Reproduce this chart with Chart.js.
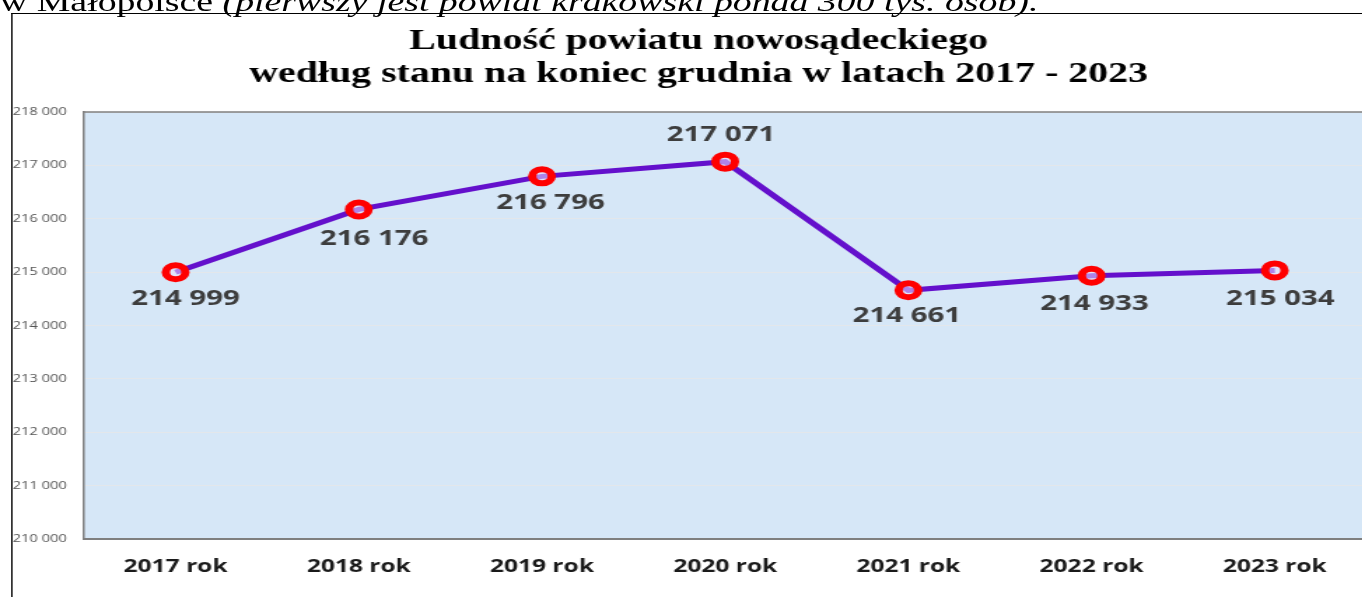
<!DOCTYPE html>
<html lang="pl">
<head>
<meta charset="utf-8">
<title>Ludność powiatu nowosądeckiego</title>
<script src="https://cdn.jsdelivr.net/npm/chart.js@4.4.1/dist/chart.umd.min.js"></script>
<style>
  html, body { margin: 0; padding: 0; background: #fff; overflow: hidden; width: 1362px; height: 597px; }
  /* the source screenshot is stretched sideways, so the whole page is too */
  #page { position: absolute; left: 0; top: 0; width: 1000px; height: 597px;
          transform: scaleX(1.4); transform-origin: 0 0; }
  #intro { position: absolute; left: 0; top: -13px; white-space: nowrap;
           font: 27px/30px "Liberation Serif", "Times New Roman", serif; color: #000; }
  #box { position: absolute; left: 7.6px; top: 13px; width: 990px; height: 600px;
         border-left: 1px solid #000; border-top: 1.5px solid #000; }
  #lineChart { position: absolute; left: 0; top: 0; }
</style>
</head>
<body>
<div id="page">
  <div id="intro">w Małopolsce <i>(pierwszy jest powiat krakowski ponad 300 tys. osób).</i></div>
  <div id="box">
    <canvas id="lineChart" width="980" height="583"></canvas>
  </div>
</div>
<script>
const titleLines = [
  "Ludność powiatu nowosądeckiego",
  "według stanu na koniec grudnia w latach 2017 - 2023",
];
const years = ["2017 rok", "2018 rok", "2019 rok", "2020 rok", "2021 rok", "2022 rok", "2023 rok"];
const population = [214999, 216176, 216796, 217071, 214661, 214933, 215034];
const yMin = 210000;
const yMax = 218000;
const yStep = 1000;

const spaced = (v) => String(v).replace(/\B(?=(\d{3})+(?!\d))/g, " ");

// plot background (runs on past the right edge, as in the source) and top frame line
const plotBack = {
  id: "plotBack",
  beforeDraw(chart) {
    const { ctx, chartArea: a } = chart;
    ctx.save();
    ctx.fillStyle = "#d6e7f7";
    ctx.fillRect(a.left, a.top, chart.width - a.left, a.bottom - a.top);
    ctx.restore();
  },
  afterDraw(chart) {
    const { ctx, chartArea: a } = chart;
    ctx.save();
    ctx.strokeStyle = "#7f7f7f";
    ctx.lineWidth = 1.5;
    ctx.beginPath();
    ctx.moveTo(a.left, a.top);
    ctx.lineTo(chart.width, a.top);
    ctx.stroke();
    ctx.restore();
  },
};

// value labels placed by hand next to each point, like in the source
const pointLabels = {
  id: "pointLabels",
  afterDatasetsDraw(chart, args, opts) {
    const ctx = chart.ctx;
    const meta = chart.getDatasetMeta(0);
    ctx.save();
    ctx.font = 'bold 21px "Open Sans"';
    ctx.fillStyle = "#3d3d3d";
    ctx.textAlign = "center";
    ctx.textBaseline = "middle";
    meta.data.forEach((pt, i) => {
      const [dx, dy] = opts.offsets[i];
      ctx.fillText(spaced(population[i]), pt.x + dx, pt.y + dy);
    });
    ctx.restore();
  },
};

new Chart(document.getElementById("lineChart"), {
  type: "line",
  data: {
    labels: years,
    datasets: [
      {
        data: population,
        borderColor: "#6410cc",
        borderWidth: 5,
        tension: 0,
        pointRadius: 7,
        pointBorderWidth: 6,
        pointBorderColor: "#ff0000",
        pointBackgroundColor: "rgba(235,225,255,0.55)",
        fill: false,
      },
    ],
  },
  options: {
    responsive: false,
    devicePixelRatio: 1,
    animation: false,
    layout: { padding: 0 },
    plugins: {
      legend: { display: false },
      tooltip: { enabled: false },
      title: {
        display: true,
        text: titleLines,
        color: "#000",
        font: { family: '"Liberation Serif", "Times New Roman", serif', size: 28.5, weight: "bold", lineHeight: 1.16 },
        padding: { top: 11, bottom: 21 },
      },
      pointLabels: {
        offsets: [[7, 27], [11, 30], [6, 27], [-3, -27], [-1, 26], [2, 28], [4, 29]],
      },
    },
    scales: {
      x: {
        offset: true,
        grid: { display: false },
        border: { display: true, color: "#7f7f7f", width: 2 },
        ticks: {
          color: "#1a1a1a",
          padding: 10,
          font: { family: '"Open Sans"', size: 17.5, weight: "bold" },
        },
        afterFit: (s) => { s.height = 58; },
      },
      y: {
        min: yMin,
        max: yMax,
        grid: { color: "#e3e7eb", lineWidth: 1, drawTicks: false },
        border: { display: true, color: "#7f7f7f", width: 1.5 },
        ticks: {
          stepSize: yStep,
          color: "#555555",
          crossAlign: "far",
          font: { family: '"Liberation Sans Narrow", "Open Sans"', size: 10.5 },
          callback: (v) => spaced(v),
        },
        afterFit: (s) => { s.width = 51; },
      },
    },
  },
  plugins: [plotBack, pointLabels],
});
</script>
</body>
</html>
